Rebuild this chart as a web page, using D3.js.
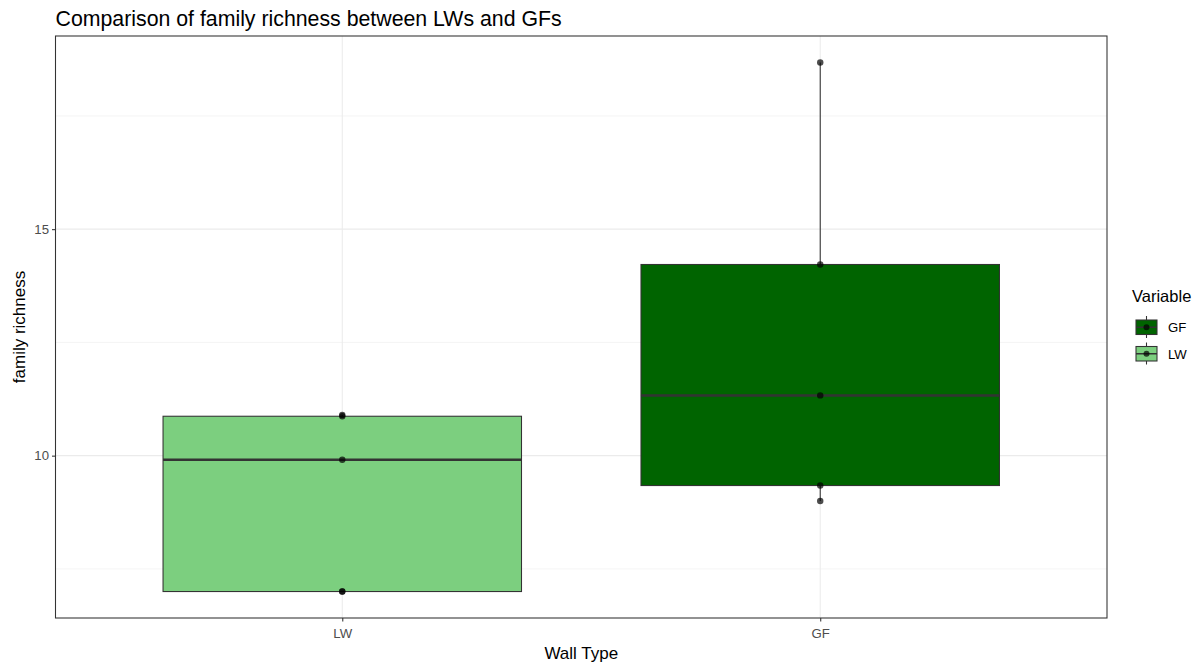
<!DOCTYPE html>
<html><head><meta charset="utf-8">
<script src="https://cdn.jsdelivr.net/npm/d3@7"></script>
<style>body{margin:0;background:#fff}svg{display:block;font-family:"Liberation Sans",Arial,sans-serif}</style>
</head><body><svg id="c" width="1204" height="666"></svg>
<script>
const categories = ["LW", "GF"];
const lwValues = [7.0, 7.0, 9.91, 10.87, 10.9];
const gfValues = [9.0, 9.34, 11.33, 14.22, 18.68];
const yTicks = [10, 15];
const yMinor = [7.5, 12.5, 17.5];
const legendOrder = ["GF", "LW"];
const fills = {LW: "#7ccf7f", GF: "#006400"};

const series = {LW: lwValues, GF: gfValues};
const svg = d3.select("#c");
const m = {l: 55.5, t: 36, r: 1107, b: 618};

const all = lwValues.concat(gfValues);
const [mn, mx] = d3.extent(all);
const pad = (mx - mn) * 0.05;
const y = d3.scaleLinear().domain([mn - pad, mx + pad]).range([m.b, m.t]);
const x = d3.scalePoint().domain(categories).range([m.l, m.r]).padding(0.6);
const step = x.step();
const bw = step * 0.75;

// grid
const g = svg.append("g");
g.selectAll(".minor").data(yMinor).enter().append("line")
  .attr("x1", m.l).attr("x2", m.r).attr("y1", d => y(d)).attr("y2", d => y(d))
  .attr("stroke", "#ebebeb").attr("stroke-width", 0.55);
g.selectAll(".major").data(yTicks).enter().append("line")
  .attr("x1", m.l).attr("x2", m.r).attr("y1", d => y(d)).attr("y2", d => y(d))
  .attr("stroke", "#ebebeb").attr("stroke-width", 1.07);
g.selectAll(".vmajor").data(categories).enter().append("line")
  .attr("y1", m.t).attr("y2", m.b).attr("x1", d => x(d)).attr("x2", d => x(d))
  .attr("stroke", "#ebebeb").attr("stroke-width", 1.07);

function stats(v) {
  const s = v.slice().sort(d3.ascending);
  const q1 = d3.quantile(s, 0.25), med = d3.quantile(s, 0.5), q3 = d3.quantile(s, 0.75);
  const iqr = q3 - q1;
  const lo = d3.min(s.filter(d => d >= q1 - 1.5 * iqr));
  const hi = d3.max(s.filter(d => d <= q3 + 1.5 * iqr));
  return {q1, med, q3, lo, hi};
}

categories.forEach(c => {
  const st = stats(series[c]);
  const cx = x(c);
  const bg = svg.append("g");
  bg.append("line").attr("x1", cx).attr("x2", cx).attr("y1", y(st.hi)).attr("y2", y(st.q3))
    .attr("stroke", "#333").attr("stroke-width", 1.07);
  bg.append("line").attr("x1", cx).attr("x2", cx).attr("y1", y(st.q1)).attr("y2", y(st.lo))
    .attr("stroke", "#333").attr("stroke-width", 1.07);
  bg.append("rect").attr("x", cx - bw / 2).attr("width", bw)
    .attr("y", y(st.q3)).attr("height", y(st.q1) - y(st.q3))
    .attr("fill", fills[c]).attr("stroke", "#333").attr("stroke-width", 1.07);
  bg.append("line").attr("x1", cx - bw / 2).attr("x2", cx + bw / 2).attr("y1", y(st.med)).attr("y2", y(st.med))
    .attr("stroke", "#333").attr("stroke-width", 2.5);
  bg.selectAll("circle").data(series[c]).enter().append("circle")
    .attr("cx", cx).attr("cy", d => y(d)).attr("r", 3.2)
    .attr("fill", "#000").attr("fill-opacity", 0.7);
});

// panel border
svg.append("rect").attr("x", m.l).attr("y", m.t).attr("width", m.r - m.l).attr("height", m.b - m.t)
  .attr("fill", "none").attr("stroke", "#333").attr("stroke-width", 1.07);

// axes
const yAxis = svg.append("g").attr("transform", `translate(${m.l},0)`)
  .call(d3.axisLeft(y).tickValues(yTicks).tickSize(3.5).tickPadding(3));
const xAxis = svg.append("g").attr("transform", `translate(0,${m.b})`)
  .call(d3.axisBottom(x).tickSize(3.5).tickPadding(4));
[yAxis, xAxis].forEach(a => {
  a.select(".domain").remove();
  a.selectAll("line").attr("stroke", "#333").attr("stroke-width", 1.07);
  a.selectAll("text").attr("fill", "#4d4d4d").style("font-size", "13.2px").style("font-family", "Liberation Sans, Arial, sans-serif");
});
xAxis.selectAll("text").attr("dy", null).attr("y", 20);

// titles
svg.append("text").attr("x", 55.5).attr("y", 26).text("Comparison of family richness between LWs and GFs")
  .attr("fill", "#000").style("font-size", "21.3px");
svg.append("text").attr("x", (m.l + m.r) / 2).attr("y", 659).attr("text-anchor", "middle")
  .text("Wall Type").style("font-size", "17px");
svg.append("text").attr("transform", `translate(25,${(m.t + m.b) / 2}) rotate(-90)`).attr("text-anchor", "middle")
  .text("family richness").style("font-size", "17px");

// legend
const lg = svg.append("g").attr("transform", "translate(1131,0)");
lg.append("text").attr("x", 1).attr("y", 302).text("Variable").style("font-size", "16.5px");
legendOrder.forEach((c, i) => {
  const ky = 318 + i * 26.5;
  const k = lg.append("g").attr("transform", `translate(5,${ky})`);
  k.append("line").attr("x1", 10.5).attr("x2", 10.5).attr("y1", -2).attr("y2", 20).attr("stroke", "#333").attr("stroke-width", 1.07);
  k.append("rect").attr("x", 0).attr("y", 2).attr("width", 21).attr("height", 14.5)
    .attr("fill", fills[c]).attr("stroke", "#333").attr("stroke-width", 1.07);
  k.append("line").attr("x1", 0).attr("x2", 21).attr("y1", 9.25).attr("y2", 9.25).attr("stroke", "#333").attr("stroke-width", 1.5);
  k.append("circle").attr("cx", 10.5).attr("cy", 9.25).attr("r", 3).attr("fill", "#000").attr("fill-opacity", 0.7);
  lg.append("text").attr("x", 37).attr("y", ky + 14).text(c).style("font-size", "13.2px").attr("fill", "#000");
});
</script></body></html>
